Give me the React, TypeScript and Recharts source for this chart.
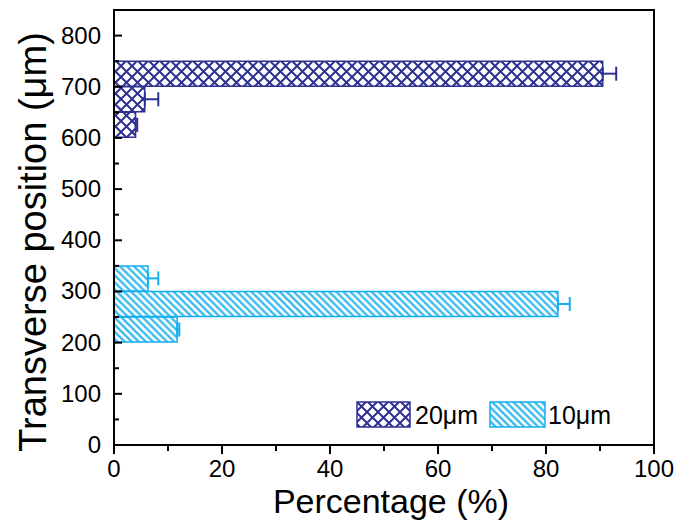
import React from "react";
import { BarChart, Bar, XAxis, YAxis, ErrorBar, ReferenceArea } from "recharts";

// 20μm 系列（位置中心 / 百分比 / 误差）
const pos20 = [625, 675, 725];
const pct20 = [4.0, 5.7, 90.5];
const err20 = [0.3, 2.5, 2.5];
// 10μm 系列
const pos10 = [225, 275, 325];
const pct10 = [11.7, 82.2, 6.3];
const err10 = [0.4, 2.2, 1.9];

const xTicks = [0, 10, 20, 30, 40, 50, 60, 70, 80, 90, 100];
const yTicks = [0, 50, 100, 150, 200, 250, 300, 350, 400, 450, 500, 550, 600, 650, 700, 750, 800];

const NAVY = "#2e3192";
const CYAN = "#14aef0";
const FONT = "'Liberation Sans', Arial, sans-serif";

const data = [
  ...pos10.map((p, i) => ({ pos: p, b: pct10[i], errB: [0, err10[i]] })),
  ...pos20.map((p, i) => ({ pos: p, a: pct20[i], errA: [0, err20[i]] })),
];

const YTick = (props: any) => {
  const { x, y, payload } = props;
  const major = payload.value % 100 === 0;
  return (
    <g>
      <line x1={x} x2={x + (major ? 8 : 5)} y1={y} y2={y} stroke="#000" strokeWidth={2} />
      {major && (
        <text x={x - 13} y={y + 8} textAnchor="end" fontSize={24} fontFamily={FONT} fill="#000">
          {payload.value}
        </text>
      )}
    </g>
  );
};

const XTick = (props: any) => {
  const { x, y, payload } = props;
  const major = payload.value % 20 === 0;
  return (
    <g>
      <line x1={x} x2={x} y1={y} y2={y + (major ? 9 : 6)} stroke="#000" strokeWidth={2} />
      {major && (
        <text x={x} y={y + 32} textAnchor="middle" fontSize={24} fontFamily={FONT} fill="#000">
          {payload.value}
        </text>
      )}
    </g>
  );
};

const YTitle = () => (
  <text transform="translate(46,242) rotate(-90)" textAnchor="middle" fontSize={38} fontFamily={FONT} fill="#000">
    Transverse position (μm)
  </text>
);

const XTitle = () => (
  <text x={391} y={513} textAnchor="middle" fontSize={34} fontFamily={FONT} fill="#000">
    Percentage (%)
  </text>
);

const LegendBox = () => (
  <div
    style={{
      position: "absolute",
      left: 356,
      top: 400,
      display: "flex",
      alignItems: "center",
      fontFamily: FONT,
      fontSize: 25,
      lineHeight: "30px",
    }}
  >
    <svg width={56} height={28}>
      <rect x={1} y={1} width={53} height={25} fill="url(#cross20)" stroke={NAVY} strokeWidth={1.5} />
    </svg>
    <span style={{ marginLeft: 3, marginRight: 11 }}>20μm</span>
    <svg width={58} height={28}>
      <rect x={1} y={1} width={55} height={25} fill="url(#diag10)" stroke={CYAN} strokeWidth={1.5} />
    </svg>
    <span style={{ marginLeft: 1 }}>10μm</span>
  </div>
);

export default function App() {
  return (
    <div style={{ position: "fixed", left: 0, top: 0, width: 681, height: 529, background: "#fff" }}>
      <BarChart
        width={681}
        height={529}
        data={data}
        layout="vertical"
        margin={{ top: 10, right: 27, bottom: 0, left: 0 }}
      >
        <defs>
          <pattern id="cross20" patternUnits="userSpaceOnUse" width={11} height={11}>
            <rect width={11} height={11} fill="#fff" />
            <path d="M0,0 L11,11 M11,0 L0,11" stroke={NAVY} strokeWidth={2} />
          </pattern>
          <pattern id="diag10" patternUnits="userSpaceOnUse" width={5} height={10} patternTransform="rotate(-45)">
            <rect width={5} height={10} fill="#fff" />
            <line x1={1.5} y1={0} x2={1.5} y2={10} stroke={CYAN} strokeWidth={2} />
          </pattern>
        </defs>
        <XAxis
          type="number"
          domain={[0, 100]}
          ticks={xTicks}
          interval={0}
          tick={<XTick />}
          tickLine={false}
          tickSize={0}
          tickMargin={0}
          height={84}
          axisLine={{ stroke: "#000", strokeWidth: 2 }}
          label={<XTitle />}
        />
        <YAxis
          type="number"
          dataKey="pos"
          domain={[0, 850]}
          reversed
          ticks={yTicks}
          interval={0}
          tick={<YTick />}
          tickLine={false}
          tickSize={0}
          tickMargin={0}
          width={114}
          axisLine={{ stroke: "#000", strokeWidth: 2 }}
          label={<YTitle />}
        />
        <ReferenceArea x1={0} x2={100} y1={0} y2={850} fill="none" stroke="#000" strokeWidth={2} ifOverflow="visible" />
        <Bar dataKey="a" stackId="s" barSize={25} fill="url(#cross20)" stroke={NAVY} strokeWidth={1.5} isAnimationActive={false}>
          <ErrorBar dataKey="errA" direction="x" width={7} stroke={NAVY} strokeWidth={2} />
        </Bar>
        <Bar dataKey="b" stackId="s" barSize={25} fill="url(#diag10)" stroke={CYAN} strokeWidth={1.5} isAnimationActive={false}>
          <ErrorBar dataKey="errB" direction="x" width={7} stroke={CYAN} strokeWidth={2} />
        </Bar>
      </BarChart>
      <LegendBox />
    </div>
  );
}
